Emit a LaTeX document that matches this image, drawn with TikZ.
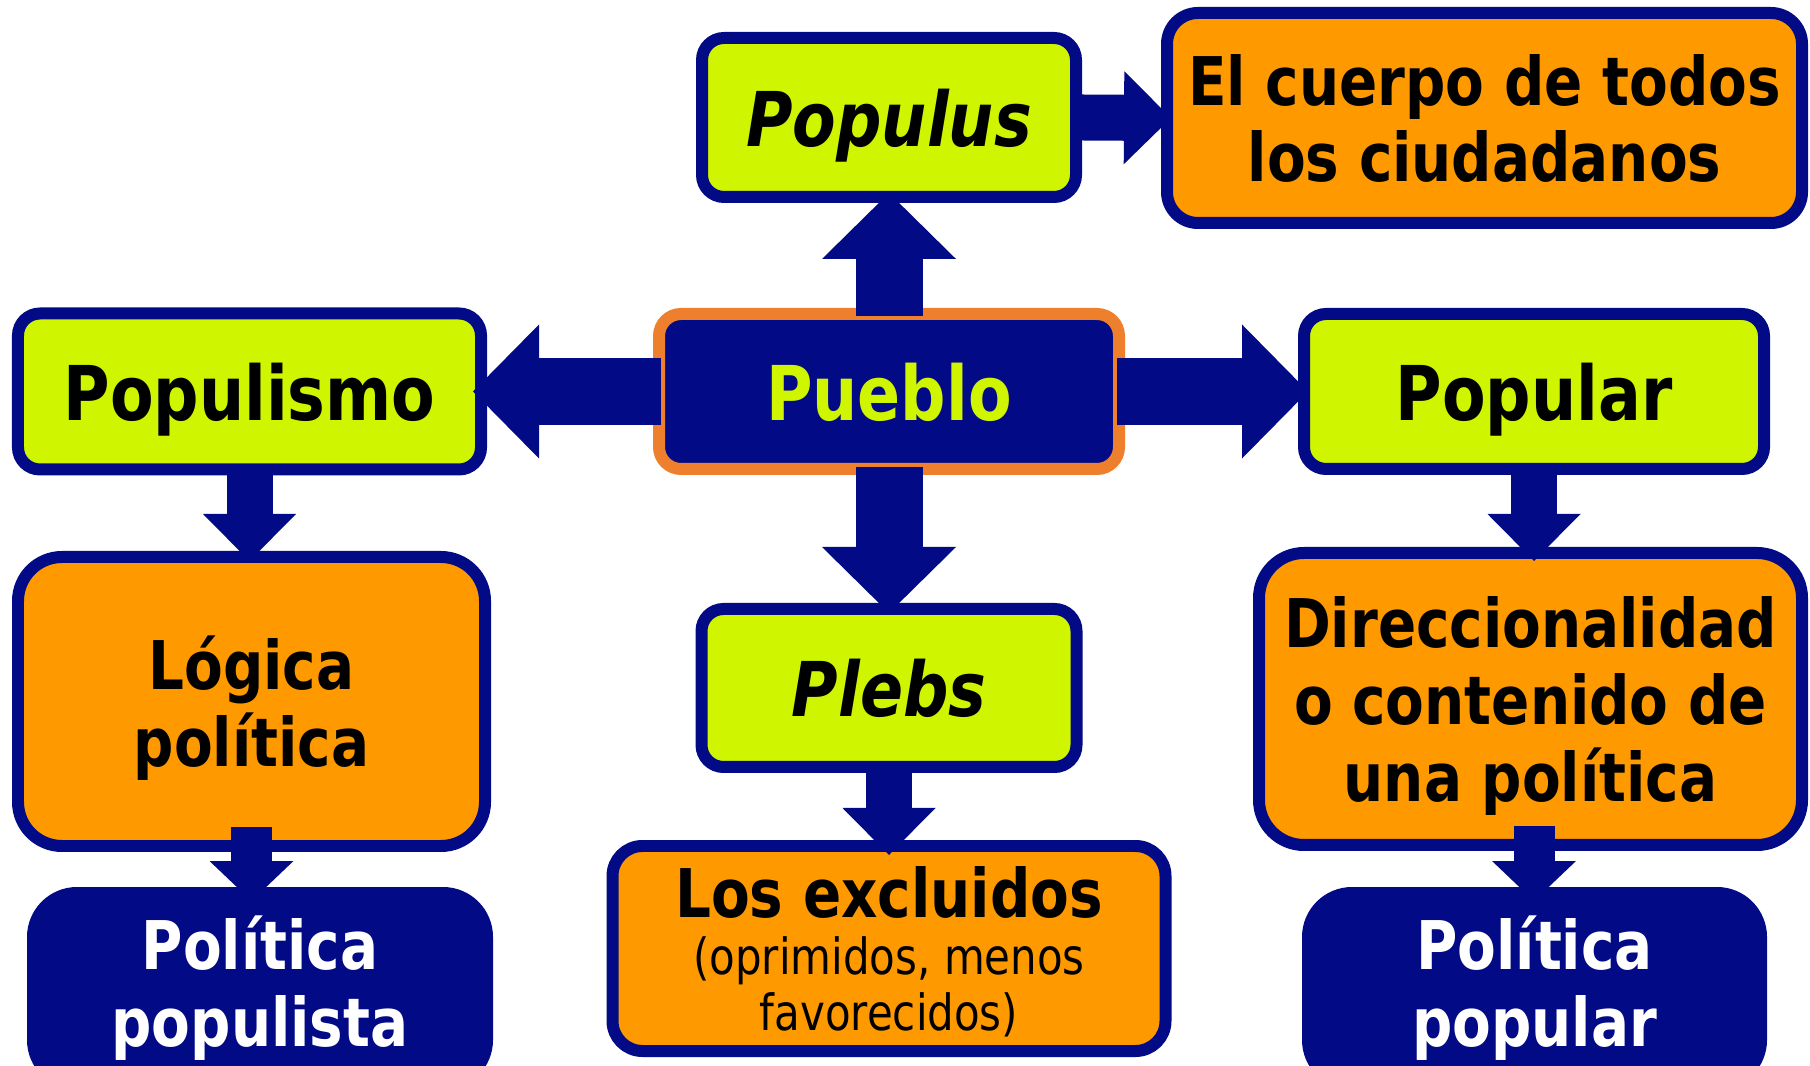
\documentclass[tikz,border=0pt]{standalone}
\usepackage{fontspec}
\setmainfont{DejaVu Sans}[FakeStretch=0.84]
\usepackage{xcolor}
\usetikzlibrary{arrows.meta}
\definecolor{Navy}{HTML}{020B85}
\definecolor{Lime}{HTML}{D0F500}
\definecolor{Amber}{HTML}{FF9900}
\definecolor{Ember}{HTML}{EE7F2D}
\newcommand{\headfont}{\fontsize{21.5}{24}\selectfont\bfseries}
\newcommand{\boxfont}{\fontsize{19.1}{21.9}\selectfont\bfseries}
\newcommand{\remarkfont}{\fontsize{14.2}{16.2}\selectfont}

\begin{document}
\begin{tikzpicture}[
        base/.style={rectangle, line width=0.12cm, rounded corners=0.22cm,
                    inner sep=2pt, align=center},
        keybox/.style={base, draw=Navy, fill=Lime, font=\headfont, text depth=0pt},
        infobox/.style={base, draw=Navy, fill=Amber, font=\boxfont, text depth=0pt},
        resultbox/.style={base, draw=Navy, fill=Navy, text=white, font=\boxfont},
        core/.style={base, draw=Ember, fill=Navy, text=Lime, font=\headfont, text depth=0pt},
        bigarrow/.style={draw=Navy, line width=0.67cm,
                    -{Triangle[width=1.34cm, length=0.66cm, line width=0pt]},
                    shorten <=-0.08cm, shorten >=-0.1cm},
        midarrow/.style={draw=Navy, line width=0.46cm,
                    -{Triangle[width=0.93cm, length=0.47cm, line width=0pt]},
                    shorten <=-0.08cm, shorten >=-0.1cm},
        smallarrow/.style={draw=Navy, line width=0.41cm,
                    -{Triangle[width=0.84cm, length=0.40cm, line width=0pt]},
                    shorten <=-0.25cm, shorten >=-0.14cm}]

        \useasboundingbox (0,0) rectangle (18.10,10.65);
        \clip (0,0) rectangle (18.10,10.65);

        % Centre
        \node[core, minimum width=4.60cm, minimum height=1.55cm] (pueblo) at (8.89, 6.735) {Pueblo};

        % Top row
        \node[keybox, minimum width=3.74cm, minimum height=1.59cm] (populus) at (8.89, 9.475) {\itshape Populus};
        \node[infobox, minimum width=6.35cm, minimum height=2.10cm, rounded corners=0.31cm]
            (cuerpo) at (14.845, 9.47) {El cuerpo de todos\\los ciudadanos};

        % Middle row
        \node[keybox, minimum width=4.63cm, minimum height=1.56cm] (populismo) at (2.495, 6.735) {Populismo};
        \node[keybox, minimum width=4.60cm, minimum height=1.55cm] (popular) at (15.34, 6.735) {Popular};

        % Lower rows
        \node[keybox, minimum width=3.75cm, minimum height=1.58cm] (plebs) at (8.89, 3.77) {\itshape Plebs};
        \node[infobox, minimum width=4.67cm, minimum height=2.89cm, rounded corners=0.44cm]
            (logica) at (2.515, 3.635) {Lógica\\política};
        \node[infobox, minimum width=5.43cm, minimum height=2.92cm, rounded corners=0.45cm]
            (direcc) at (15.305, 3.66) {Direccionalidad\\o contenido de\\una política};
        \node[infobox, font=\remarkfont, minimum width=5.53cm, minimum height=2.05cm, rounded corners=0.30cm]
            (excluidos) at (8.89, 1.165) {{\boxfont Los excluidos}\\{\remarkfont (oprimidos, menos}\\{\remarkfont favorecidos)}};
        \node[resultbox, minimum width=4.54cm, minimum height=1.91cm, rounded corners=0.44cm]
            (polpopulista) at (2.60, 0.765) {Política\\populista};
        \node[resultbox, minimum width=4.53cm, minimum height=1.91cm, rounded corners=0.44cm]
            (polpopular) at (15.345, 0.765) {Política\\popular};

        % Arrows out of Pueblo
        \draw[bigarrow] (pueblo.north) -- (populus.south);
        \draw[bigarrow, shorten >=-0.14cm] (pueblo.west) -- (populismo.east);
        \draw[bigarrow] (pueblo.east) -- (popular.west);
        \draw[bigarrow] (pueblo.south) -- (plebs.north);

        % Second level
        \draw[midarrow] (populus.east) -- (cuerpo.west);
        \draw[midarrow] (populismo.south) -- (populismo.south |- logica.north);
        \draw[midarrow, shorten >=-0.14cm] (popular.south) -- (popular.south |- direcc.north);
        \draw[midarrow, shorten <=-0.11cm, shorten >=-0.15cm] (plebs.south) -- (excluidos.north);

        % Third level
        \draw[smallarrow] (logica.south) -- (logica.south |- polpopulista.north);
        \draw[smallarrow] (popular.south |- direcc.south) -- (popular.south |- polpopular.north);
\end{tikzpicture}
\end{document}
